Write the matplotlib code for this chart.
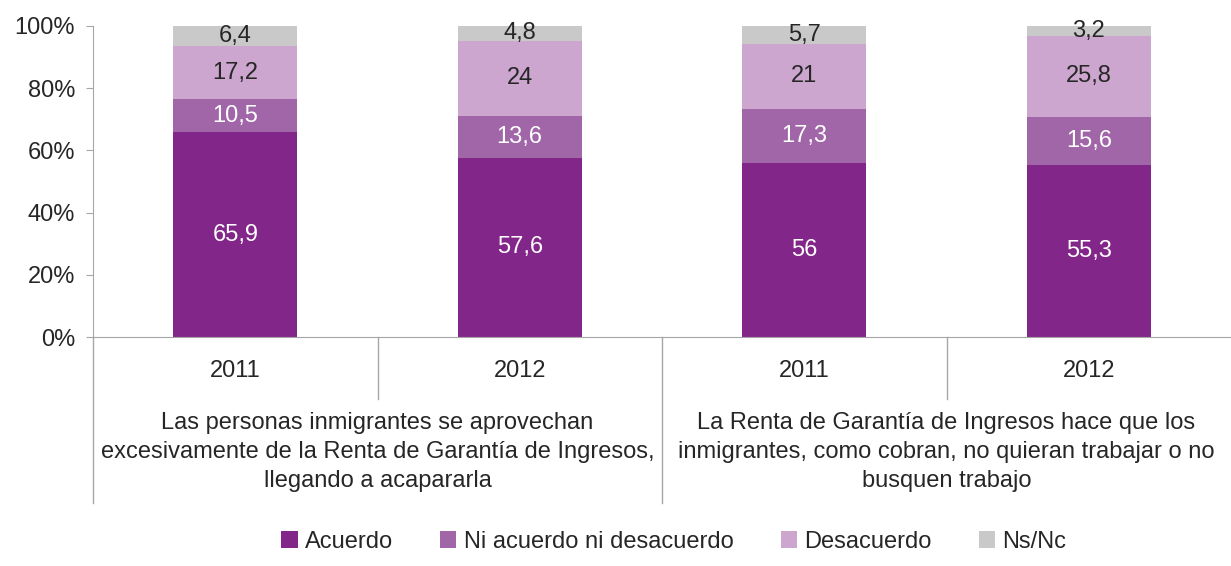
import matplotlib
matplotlib.use("Agg")
import matplotlib.pyplot as plt
from matplotlib.patches import Patch
import numpy as np

# data
years = ["2011", "2012", "2011", "2012"]
groups = [
    "Las personas inmigrantes se aprovechan\nexcesivamente de la Renta de Garantía de Ingresos,\nllegando a acapararla",
    "La Renta de Garantía de Ingresos hace que los\ninmigrantes, como cobran, no quieran trabajar o no\nbusquen trabajo",
]
series_names = ["Acuerdo", "Ni acuerdo ni desacuerdo", "Desacuerdo", "Ns/Nc"]
acuerdo = [65.9, 57.6, 56, 55.3]
ni_acuerdo = [10.5, 13.6, 17.3, 15.6]
desacuerdo = [17.2, 24, 21, 25.8]
nsnc = [6.4, 4.8, 5.7, 3.2]

colors = ["#83268A", "#A066A8", "#CCA6CE", "#C8C9C8"]
label_colors = ["white", "white", "#262626", "#262626"]

plt.rcParams['font.family'] = ['Liberation Sans', 'DejaVu Sans']
text_col = "#262626"
line_col = "#A6A6A6"
fs = 17

W, H = 1231, 566
fig = plt.figure(figsize=(W / 100, H / 100), dpi=100)
ax = fig.add_axes([93 / W, (H - 337) / H, (W - 93) / W, 311 / H])

x = np.arange(len(years))
bottom = np.zeros(len(years))
for vals, name, c, lc in zip([acuerdo, ni_acuerdo, desacuerdo, nsnc], series_names, colors, label_colors):
    vals = np.array(vals, dtype=float)
    ax.bar(x, vals, width=0.436, bottom=bottom, color=c, label=name)
    for xi, b, v in zip(x, bottom, vals):
        lbl = f"{v:g}".replace(".", ",")
        ax.text(xi, b + v / 2, lbl, ha="center", va="center", fontsize=fs, color=lc)
    bottom += vals

ax.set_xlim(-0.5, len(years) - 0.5)
ax.set_ylim(0, 100)
ax.set_yticks(np.arange(0, 101, 20))
ax.set_yticklabels([f"{v}%" for v in range(0, 101, 20)], fontsize=fs, color=text_col)
ax.tick_params(axis="y", length=5, color=line_col, pad=8)
ax.set_xticks([])

for s in ["top", "right"]:
    ax.spines[s].set_visible(False)
ax.spines["left"].set_color(line_col)
ax.spines["bottom"].set_color(line_col)

# category axis below the bars
tr = ax.get_xaxis_transform()
for xs, depth in [(-0.5, -0.535), (0.5, -0.2), (1.5, -0.535), (2.5, -0.2)]:
    ax.plot([xs, xs], [0, depth], transform=tr, color=line_col, lw=1, clip_on=False)

for xi, yr in zip(x, years):
    ax.text(xi, -0.11, yr, transform=tr, ha="center", va="center", fontsize=fs, color=text_col)

for gi, g in enumerate(groups):
    ax.text(2 * gi + 0.5, -0.37, g, transform=tr, ha="center", va="center",
            fontsize=fs, color=text_col, linespacing=1.42)

handles = [Patch(facecolor=c) for c in colors]
fig.legend(handles, series_names, loc="center left", bbox_to_anchor=(281 / W, 1 - 542 / H), ncol=4,
           frameon=False, fontsize=fs, handlelength=0.7, handleheight=0.7, borderpad=0,
           borderaxespad=0, handletextpad=0.3, columnspacing=2.0, labelcolor=text_col)

fig.savefig("out.png", dpi=100)
